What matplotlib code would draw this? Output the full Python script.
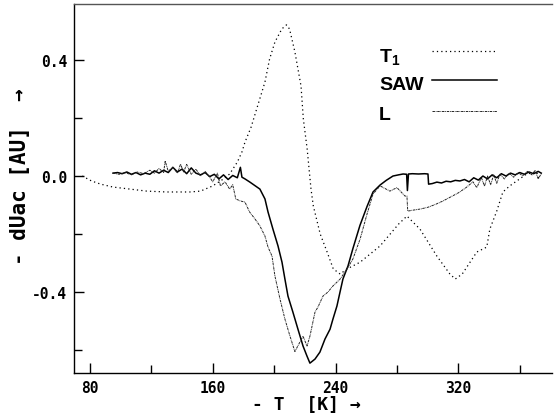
"""Temperature sweep of dUac: T1, SAW and L traces."""

import matplotlib

matplotlib.use("Agg")
import matplotlib.pyplot as plt
from matplotlib.lines import Line2D
from matplotlib.ticker import MultipleLocator

# --- data (temperature in K, signal in AU) ---
t1_temp = [75, 81, 87, 95, 106, 117, 130, 145, 152, 160, 167, 171, 176, 179,
           181, 185, 189, 194, 197, 200.5, 205, 208, 210, 213.5, 217.5, 219,
           221.5, 224, 225.5, 230, 234.5, 238.5, 243, 247.5, 256, 269, 281,
           286.5, 295, 306, 314.5, 318, 322.5, 332, 338.5, 340.5, 345, 349,
           353.5, 364.5, 371, 373]
t1_val = [0.0, -0.017, -0.028, -0.038, -0.045, -0.052, -0.055, -0.055, -0.052,
          -0.034, -0.01, 0.007, 0.048, 0.083, 0.117, 0.169, 0.238, 0.324, 0.403,
          0.462, 0.507, 0.521, 0.507, 0.428, 0.31, 0.197, 0.093, -0.045, -0.103,
          -0.2, -0.262, -0.32, -0.338, -0.32, -0.297, -0.241, -0.166, -0.138,
          -0.183, -0.276, -0.338, -0.355, -0.338, -0.262, -0.245, -0.183,
          -0.121, -0.055, -0.034, 0.007, 0.014, -0.017]

saw_temp = [95, 98, 101, 104, 107, 110, 113, 116, 119, 122, 125, 128, 131, 134,
            137, 140, 143, 146, 149, 152, 155, 158, 161, 164, 167, 170, 173,
            176, 178, 179, 181, 184.2, 190.7, 194, 196, 199.2, 202.5, 205.1,
            207, 209, 212.2, 215.5, 218.8, 221.4, 223.3, 226.6, 229.8, 233.1,
            236.4, 238.3, 240.9, 242.9, 244.8, 248.1, 251.3, 255.9, 260.5,
            264.4, 269, 273, 277.4, 281, 284, 286.3, 286.8, 287.5, 290, 294,
            298, 300.2, 300.6, 303, 306, 309, 312, 315, 318, 321, 324, 327, 330,
            333, 336, 339, 342, 345, 348, 351, 354, 357, 360, 363, 366, 369,
            372, 374]
saw_val = [0.01, 0.012, 0.008, 0.014, 0.006, 0.012, 0.004, 0.01, 0.006, 0.018,
           0.01, 0.02, 0.012, 0.03, 0.014, 0.024, 0.008, 0.028, 0.01, 0.004,
           0.012, -0.002, 0.006, -0.01, 0.004, -0.012, 0.002, -0.006, 0.03,
           -0.004, -0.01, -0.021, -0.045, -0.079, -0.124, -0.183, -0.241,
           -0.297, -0.355, -0.414, -0.469, -0.528, -0.586, -0.621, -0.645,
           -0.631, -0.607, -0.562, -0.528, -0.493, -0.448, -0.4, -0.355,
           -0.31, -0.25, -0.17, -0.105, -0.055, -0.031, -0.015, 0.0, 0.004,
           0.007, 0.006, -0.05, 0.007, 0.008, 0.007, 0.008, 0.007, -0.028,
           -0.026, -0.021, -0.024, -0.018, -0.02, -0.015, -0.017, -0.012,
           -0.02, -0.006, -0.014, 0.0, -0.01, 0.004, -0.006, 0.008, 0.0, 0.01,
           0.004, 0.012, 0.006, 0.014, 0.008, 0.016, 0.01]

l_temp = [95, 99, 103, 107, 111, 115, 119, 122, 125, 128, 129, 131, 134, 137,
          139, 141, 143, 146, 149, 152, 155, 158, 160, 163, 165, 168, 171, 173,
          175, 178, 181, 184, 187.5, 190.7, 194, 196, 198.6, 200.5, 203.8, 207,
          210.3, 213.5, 216.8, 218.8, 221.4, 223.3, 226.6, 228.5, 231.8, 235,
          238.3, 243, 247.5, 251.3, 256, 260.5, 264.4, 269, 275.4, 280, 285.2,
          286.5, 287, 290, 295, 300, 305, 310, 315, 320, 325, 329.5, 332, 335,
          337, 339, 341, 343, 345, 347, 350, 353, 356, 359, 362, 365, 368, 370,
          372, 374]
l_val = [0.01, 0.006, 0.012, 0.004, 0.014, 0.008, 0.02, 0.01, 0.026, 0.012,
         0.052, 0.016, 0.03, 0.01, 0.041, 0.014, 0.04, 0.006, 0.024, 0.0,
         0.016, -0.004, -0.02, 0.01, -0.034, -0.02, -0.045, -0.03, -0.079,
         -0.086, -0.09, -0.124, -0.148, -0.172, -0.207, -0.245, -0.276, -0.345,
         -0.424, -0.493, -0.552, -0.605, -0.572, -0.552, -0.586, -0.552, -0.469,
         -0.452, -0.414, -0.4, -0.379, -0.355, -0.32, -0.286, -0.217, -0.131,
         -0.062, -0.034, -0.052, -0.04, -0.069, -0.069, -0.121, -0.118, -0.114,
         -0.108, -0.098, -0.086, -0.072, -0.058, -0.04, -0.02, -0.04, -0.005,
         -0.035, 0.0, -0.03, 0.004, -0.025, 0.006, -0.01, 0.01, -0.004, 0.012,
         0.0, 0.016, 0.004, 0.02, -0.01, 0.008]

x_ticks = [80, 160, 240, 320]
y_ticks = [0.4, 0.0, -0.4]
x_range = (69.6, 381)
y_range = (-0.679, 0.593)

MONO = ["DejaVu Sans Mono"]
KEYFONT = "Liberation Sans"
plt.rcParams["mathtext.fontset"] = "custom"
plt.rcParams["mathtext.rm"] = "Liberation Sans:bold"
plt.rcParams["mathtext.bf"] = "Liberation Sans:bold"

W, H = 554, 414
fig = plt.figure(figsize=(W / 100, H / 100), dpi=100)
fig.patch.set_facecolor("white")
ax = fig.add_axes([74 / W, 40 / H, 478 / W, 369 / H])

dotted = (0, (1, 2.5))
dashdot = (0, (2.5, 0.8, 0.8, 0.8))
ax.plot(t1_temp, t1_val, color="black", lw=0.9, linestyle=dotted)
ax.plot(saw_temp, saw_val, color="black", lw=1.1)
ax.plot(l_temp, l_val, color="#222222", lw=0.7, linestyle=dashdot)

ax.set_xlim(*x_range)
ax.set_ylim(*y_range)
ax.set_xticks(x_ticks)
ax.set_yticks(y_ticks)
ax.xaxis.set_minor_locator(MultipleLocator(40))
ax.yaxis.set_minor_locator(MultipleLocator(0.2))
ax.set_xticklabels([f"{v}" for v in x_ticks])
ax.set_yticklabels([f"{v:.1f}" for v in y_ticks])

ax.tick_params(which="major", direction="in", length=7.5, width=1.0,
               top=False, right=False)
ax.tick_params(which="minor", direction="in", length=5.5, width=1.0,
               top=False, right=False)
ax.tick_params(axis="x", pad=5)
ax.tick_params(axis="y", pad=5)
for lab in ax.get_xticklabels() + ax.get_yticklabels():
    lab.set_fontfamily(MONO)
    lab.set_fontweight("bold")
    lab.set_fontsize(10.5)

ax.spines["right"].set_visible(False)
for side in ("left", "bottom"):
    ax.spines[side].set_linewidth(1.0)
ax.spines["top"].set_linewidth(1.0)
ax.spines["top"].set_color("#555555")

# axis captions
fig.text(306 / W, 1 - 405 / H, "- T  [K] \u2192", family=MONO, weight="bold",
         fontsize=13, ha="center", va="center")
fig.text(20 / W, 1 - 177 / H, "- dUac [AU]  \u2192", family=MONO,
         weight="bold", fontsize=15, ha="center", va="center", rotation=90)

# key drawn in the upper right, label left of its sample line
key = [(r"T$_{\mathrm{1}}$", 52, 58, dotted, 0.9, "black"),
       ("SAW", 81, 86, "-", 1.1, "black"),
       ("L", 112, 115, dashdot, 0.7, "#222222")]
for label, line_y, text_y, ls, lw, col in key:
    yy = 1 - line_y / H
    fig.add_artist(Line2D([432 / W, 497 / W], [yy, yy], transform=fig.transFigure,
                          color=col, lw=lw, linestyle=ls))
    fig.text(379 / W, 1 - text_y / H, label, family=KEYFONT,
             weight="bold", fontsize=14, ha="left", va="center")

fig.savefig("out.png", dpi=100)
